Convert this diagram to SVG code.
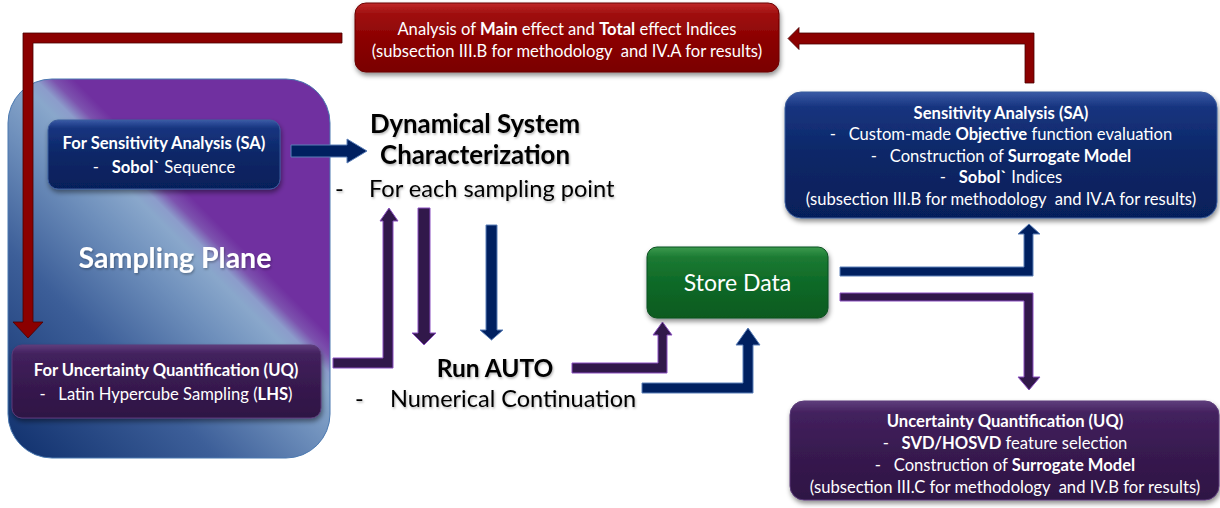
<svg xmlns="http://www.w3.org/2000/svg" width="1220" height="508" viewBox="0 0 1220 508">
  <defs>
    <style>
      text { font-family: "Lato", "Liberation Sans", sans-serif; white-space: pre; }
      .w { fill: #ffffff; text-anchor: middle; }
      .k { fill: #000000; }
      .b { font-weight: bold; }
      .box-t { font-size: 16.6px; }
      .arr-blue { fill: #002060; stroke: #5b7fb8; stroke-width: 1; }
      .arr-purple { fill: #31184a; stroke: #8a4fc0; stroke-width: 1; }
      .arr-red { fill: #8b0000; stroke: #4a0000; stroke-width: 0.8; }
    </style>
    <linearGradient id="planeGrad" gradientUnits="userSpaceOnUse" x1="0" y1="450" x2="350" y2="100">
      <stop offset="0" stop-color="#0f2f6c"/>
      <stop offset="0.3" stop-color="#3d5f99"/>
      <stop offset="0.47" stop-color="#6f90bc"/>
      <stop offset="0.555" stop-color="#89a7cb"/>
      <stop offset="0.58" stop-color="#8c9ccb"/>
      <stop offset="0.605" stop-color="#7c52ae"/>
      <stop offset="0.635" stop-color="#7030a0"/>
      <stop offset="1" stop-color="#7030a0"/>
    </linearGradient>
    <linearGradient id="blueGrad" x1="0" y1="0" x2="0" y2="1">
      <stop offset="0" stop-color="#3a5aa6"/>
      <stop offset="0.12" stop-color="#17347f"/>
      <stop offset="0.5" stop-color="#0b2767"/>
      <stop offset="1" stop-color="#061f5a"/>
    </linearGradient>
    <linearGradient id="purpleGrad" x1="0" y1="0" x2="0" y2="1">
      <stop offset="0" stop-color="#5e3d7c"/>
      <stop offset="0.12" stop-color="#43215e"/>
      <stop offset="0.5" stop-color="#381a50"/>
      <stop offset="1" stop-color="#2e1444"/>
    </linearGradient>
    <linearGradient id="redGrad" x1="0" y1="0" x2="0" y2="1">
      <stop offset="0" stop-color="#c02a2a"/>
      <stop offset="0.15" stop-color="#a01010"/>
      <stop offset="0.5" stop-color="#8c0303"/>
      <stop offset="1" stop-color="#7a0000"/>
    </linearGradient>
    <linearGradient id="greenGrad" x1="0" y1="0" x2="0" y2="1">
      <stop offset="0" stop-color="#3a9a4e"/>
      <stop offset="0.15" stop-color="#1c7a32"/>
      <stop offset="0.5" stop-color="#0e6a28"/>
      <stop offset="1" stop-color="#075a1f"/>
    </linearGradient>
    <filter id="shadow" x="-10%" y="-20%" width="120%" height="150%">
      <feDropShadow dx="1" dy="3" stdDeviation="2.5" flood-color="#000" flood-opacity="0.45"/>
    </filter>
    <filter id="tshadow" x="-5%" y="-20%" width="110%" height="150%">
      <feDropShadow dx="1" dy="1.5" stdDeviation="0.8" flood-color="#000" flood-opacity="0.3"/>
    </filter>
  </defs>

  <rect width="1220" height="508" fill="#ffffff"/>

  <!-- sampling plane container -->
  <g id="sampling-plane">
    <rect x="8" y="79" width="322" height="379" rx="44" ry="44" fill="url(#planeGrad)" stroke="#4a78b0" stroke-width="1"/>
    <text x="175" y="268" class="w b" font-size="28.5" filter="url(#tshadow)">Sampling Plane</text>
  </g>

  <!-- connectors -->
  <g id="connectors">
    <!-- analysis box back to UQ sampling -->
    <polygon class="arr-red" points="342,33 23,33 23,322 13,322 28,338 43,322 33,322 33,43 342,43"/>
    <!-- SA results up to analysis box -->
    <polygon class="arr-red" points="1025,83 1025,44 799,44 799,49.5 788,38.5 799,27.5 799,33 1034,33 1034,83"/>
    <!-- SA sampling to system characterization -->
    <polygon class="arr-blue" points="291,145 347,145 347,139 367,151 347,163 347,157 291,157"/>
    <!-- UQ sampling up to system characterization -->
    <polygon class="arr-purple" points="333,358 383,358 383,221 380,221 389,208 398,221 393,221 393,368 333,368"/>
    <!-- characterization down to AUTO (UQ path) -->
    <polygon class="arr-purple" points="418,208 430,208 430,333 436,333 424,345 412,333 418,333"/>
    <!-- characterization down to AUTO (SA path) -->
    <polygon class="arr-blue" points="486,225 497,225 497,330 503,330 491.5,340 480,330 486,330"/>
    <!-- AUTO to store data (UQ path) -->
    <polygon class="arr-purple" points="572,363 658,363 658,335 653,335 662.5,322 672,335 667,335 667,373 572,373"/>
    <!-- AUTO to store data (SA path) -->
    <polygon class="arr-blue" points="642,383 743,383 743,345 736,345 748,328 760,345 753,345 753,393 642,393"/>
    <!-- store data to SA results -->
    <polygon class="arr-blue" points="840,267 1024,267 1024,234 1018,234 1029,224 1040,234 1033,234 1033,276 840,276"/>
    <!-- store data to UQ results -->
    <polygon class="arr-purple" points="840,293 1033,293 1033,377 1040,377 1029,390 1018,377 1024,377 1024,301 840,301"/>
  </g>

  <g id="analysis-indices">
    <rect x="355" y="3" width="424" height="69" rx="11" fill="url(#redGrad)" stroke="#6a0000" stroke-width="1" filter="url(#shadow)"/>
    <text x="567" y="35" class="w box-t">Analysis of <tspan class="b">Main</tspan> effect and <tspan class="b">Total</tspan> effect Indices</text>
    <text x="567" y="57" class="w box-t">(subsection III.B for methodology &#160;and IV.A for results)</text>
  </g>

  <g id="sampling-sa">
    <rect x="48" y="120" width="232" height="69" rx="10" fill="url(#blueGrad)" stroke="#3b5c9c" stroke-width="1" filter="url(#shadow)"/>
    <text x="164" y="149" class="w b box-t">For Sensitivity Analysis (SA)</text>
    <text x="164" y="173" class="w box-t">-&#160;&#160;&#160;<tspan class="b">Sobol`</tspan> Sequence</text>
  </g>

  <g id="sampling-uq">
    <rect x="12" y="345" width="309" height="73" rx="10" fill="url(#purpleGrad)" stroke="#5a3a78" stroke-width="1" filter="url(#shadow)"/>
    <text x="166" y="376" class="w b box-t">For Uncertainty Quantification (UQ)</text>
    <text x="166" y="400" class="w box-t">-&#160;&#160;&#160;Latin Hypercube Sampling (<tspan class="b">LHS</tspan>)</text>
  </g>

  <g id="system-characterization" filter="url(#tshadow)">
    <text x="475" y="133" class="k b" font-size="25.8" text-anchor="middle">Dynamical System</text>
    <text x="475" y="164" class="k b" font-size="25.8" text-anchor="middle">Characterization</text>
    <text x="335" y="197" class="k" font-size="23.6">-</text>
    <text x="369" y="197" class="k" font-size="23.6">For each sampling point</text>
  </g>

  <g id="run-auto" filter="url(#tshadow)">
    <text x="495" y="377" class="k b" font-size="24.5" text-anchor="middle">Run AUTO</text>
    <text x="355" y="407" class="k" font-size="23.5">-</text>
    <text x="390" y="407" class="k" font-size="23.5">Numerical Continuation</text>
  </g>

  <g id="store-data">
    <rect x="647" y="247" width="181" height="71" rx="10" fill="url(#greenGrad)" stroke="#0a5020" stroke-width="1" filter="url(#shadow)"/>
    <text x="737.5" y="291" class="w" font-size="23">Store Data</text>
  </g>

  <g id="sa-results">
    <rect x="785" y="92" width="432" height="126" rx="16" fill="url(#blueGrad)" stroke="#3b5c9c" stroke-width="1" filter="url(#shadow)"/>
    <text x="1001" y="119" class="w b box-t">Sensitivity Analysis (SA)</text>
    <text x="1001" y="140" class="w box-t">-&#160;&#160;&#160;Custom-made <tspan class="b">Objective</tspan> function evaluation</text>
    <text x="1001" y="162" class="w box-t">-&#160;&#160;&#160;Construction of <tspan class="b">Surrogate Model</tspan></text>
    <text x="1001" y="183" class="w box-t">-&#160;&#160;&#160;<tspan class="b">Sobol`</tspan> Indices</text>
    <text x="1001" y="205" class="w box-t">(subsection III.B for methodology &#160;and IV.A for results)</text>
  </g>

  <g id="uq-results">
    <rect x="790" y="401" width="429" height="99" rx="14" fill="url(#purpleGrad)" stroke="#5a3a78" stroke-width="1" filter="url(#shadow)"/>
    <text x="1005" y="427" class="w b box-t">Uncertainty Quantification (UQ)</text>
    <text x="1005" y="449" class="w box-t">-&#160;&#160;&#160;<tspan class="b">SVD/HOSVD</tspan> feature selection</text>
    <text x="1005" y="471" class="w box-t">-&#160;&#160;&#160;Construction of <tspan class="b">Surrogate Model</tspan></text>
    <text x="1005" y="493" class="w box-t">(subsection III.C for methodology &#160;and IV.B for results)</text>
  </g>
</svg>
